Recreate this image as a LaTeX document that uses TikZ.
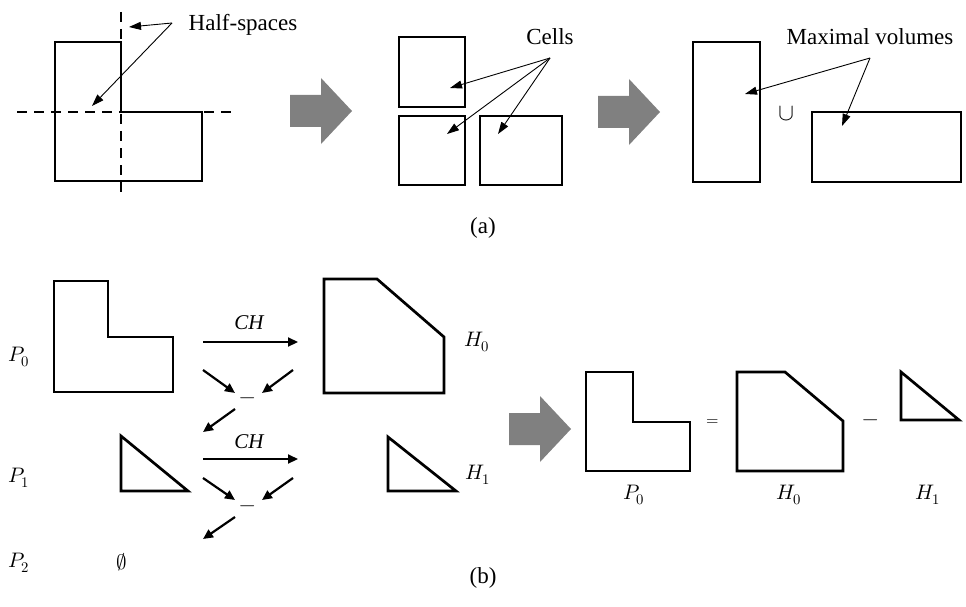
\documentclass[tikz,border=0pt]{standalone}
\usepackage{fontspec}
\usepackage{unicode-math}
\setmainfont{Liberation Serif}
\setmathfont{Latin Modern Math}
\usetikzlibrary{arrows.meta}

\tikzset{
  poly/.style={line width=2.7pt, line join=miter},
  hsline/.style={line width=2.2pt, dash pattern=on 10pt off 7pt},
  pointer/.style={-{Triangle[length=12pt,width=8pt]}, line width=0.9pt},
  flow/.style={-{Triangle[length=10pt,width=9pt]}, line width=2.2pt},
  lbl/.style={font=\fontsize{23}{27}\selectfont, inner sep=0pt},
  mlbl/.style={font=\fontsize{21}{25}\selectfont, inner sep=0pt}
}
\newcommand{\blockarrow}[1]{%
  \fill[gray, shift={#1}] (-62,-16) -- (-31,-16) -- (-31,-33) -- (0,0)
    -- (-31,33) -- (-31,16) -- (-62,16) -- cycle;}

\begin{document}
\begin{tikzpicture}[x=1pt,y=-1pt]
  \useasboundingbox (0,0) rectangle (966,607);

  % (a) half-spaces
  \draw[hsline] (17,112) -- (233,112);
  \draw[hsline] (121,12) -- (121,193);
  \draw[poly] (55,42) -- (121,42) -- (121,112) -- (202,112) -- (202,181) -- (55,181) -- cycle;
  \node[lbl] (halfsp) at (243,25) {Half-spaces};
  \coordinate (halfsp-tail) at (172,23);
  \coordinate (halfsp-v) at (129,27);
  \coordinate (halfsp-h) at (92,106);
  \draw[pointer] (halfsp-tail) -- (halfsp-v);
  \draw[pointer] (halfsp-tail) -- (halfsp-h);

  \blockarrow{(352,111)}

  % cells
  \draw[poly] (399,37) rectangle (465,107);
  \draw[poly] (399,116) rectangle (465,185);
  \draw[poly] (480,116) rectangle (562,185);
  \node[lbl] (cells) at (550,37) {Cells};
  \coordinate (cells-tail) at (550,58);
  \coordinate (cell-a) at (450,88);
  \coordinate (cell-b) at (447,134);
  \coordinate (cell-c) at (498,134);
  \foreach \c in {cell-a,cell-b,cell-c}
    \draw[pointer] (cells-tail) -- (\c);

  \blockarrow{(660,112)}

  % maximal volumes
  \draw[poly] (693,42) rectangle (760,182);
  \draw[poly] (812,112) rectangle (961,182);
  \node[font=\fontsize{24}{28}\selectfont] (cup) at (786,113) {$\cup$};
  \node[lbl] (maxvol) at (870,37) {Maximal volumes};
  \coordinate (maxvol-tail) at (870,58);
  \coordinate (vol-a) at (745,94);
  \coordinate (vol-b) at (842,126);
  \draw[pointer] (maxvol-tail) -- (vol-a);
  \draw[pointer] (maxvol-tail) -- (vol-b);

  \node[lbl] (capa) at (483,228) {(a)};

  % (b) row labels
  \node[mlbl] (p0) at (19,357) {$P_0$};
  \node[mlbl] (p1) at (19,478) {$P_1$};
  \node[mlbl] (p2) at (19,563) {$P_2$};

  % polygons
  \draw[poly] (54,281) -- (108,281) -- (108,337) -- (173,337) -- (173,392) -- (54,392) -- cycle;
  \draw[poly] (121,436) -- (121,491) -- (188,491) -- cycle;
  \node[mlbl] (empty) at (122,562) {$\emptyset$};
  \draw[poly] (324,279) -- (377,279) -- (444,337) -- (444,393) -- (324,393) -- cycle;
  \draw[poly] (388,437) -- (388,491) -- (456,491) -- cycle;
  \node[mlbl] (h0) at (477,342) {$H_0$};
  \node[mlbl] (h1) at (478,475) {$H_1$};

  % convex hull steps
  \coordinate (ch0-s) at (203,342);
  \coordinate (ch0-e) at (298,342);
  \draw[flow] (ch0-s) -- (ch0-e);
  \node[mlbl] (ch0) at (249,323) {$\mathit{CH}$};
  \node[mlbl] (minus0) at (248,401) {$-$};
  \coordinate (d0-l) at (203,370);
  \coordinate (d0-r) at (293,370);
  \coordinate (d0-out) at (203,432);
  \draw[flow] (d0-l) -- (235,393);
  \draw[flow] (d0-r) -- (262,393);
  \draw[flow] (235,409) -- (d0-out);

  \coordinate (ch1-s) at (203,459);
  \coordinate (ch1-e) at (298,459);
  \draw[flow] (ch1-s) -- (ch1-e);
  \node[mlbl] (ch1) at (249,442) {$\mathit{CH}$};
  \node[mlbl] (minus1) at (248,509) {$-$};
  \coordinate (d1-l) at (203,478);
  \coordinate (d1-r) at (293,478);
  \coordinate (d1-out) at (203,539);
  \draw[flow] (d1-l) -- (235,500);
  \draw[flow] (d1-r) -- (262,500);
  \draw[flow] (235,517) -- (d1-out);

  \blockarrow{(571,429)}

  % result
  \draw[poly] (586,372) -- (633,372) -- (633,422) -- (690,422) -- (690,471) -- (586,471) -- cycle;
  \node[font=\fontsize{16}{20}\selectfont] (eq) at (713,423) {$=$};
  \draw[poly] (737,372) -- (785,372) -- (843,421) -- (843,471) -- (737,471) -- cycle;
  \node[mlbl] (minus2) at (871,423) {$-$};
  \draw[poly] (901,372) -- (901,420) -- (959,420) -- cycle;
  \node[mlbl] (rp0) at (634,495) {$P_0$};
  \node[mlbl] (rh0) at (789,495) {$H_0$};
  \node[mlbl] (rh1) at (928,495) {$H_1$};

  \node[lbl] (capb) at (483,578) {(b)};
\end{tikzpicture}
\end{document}
